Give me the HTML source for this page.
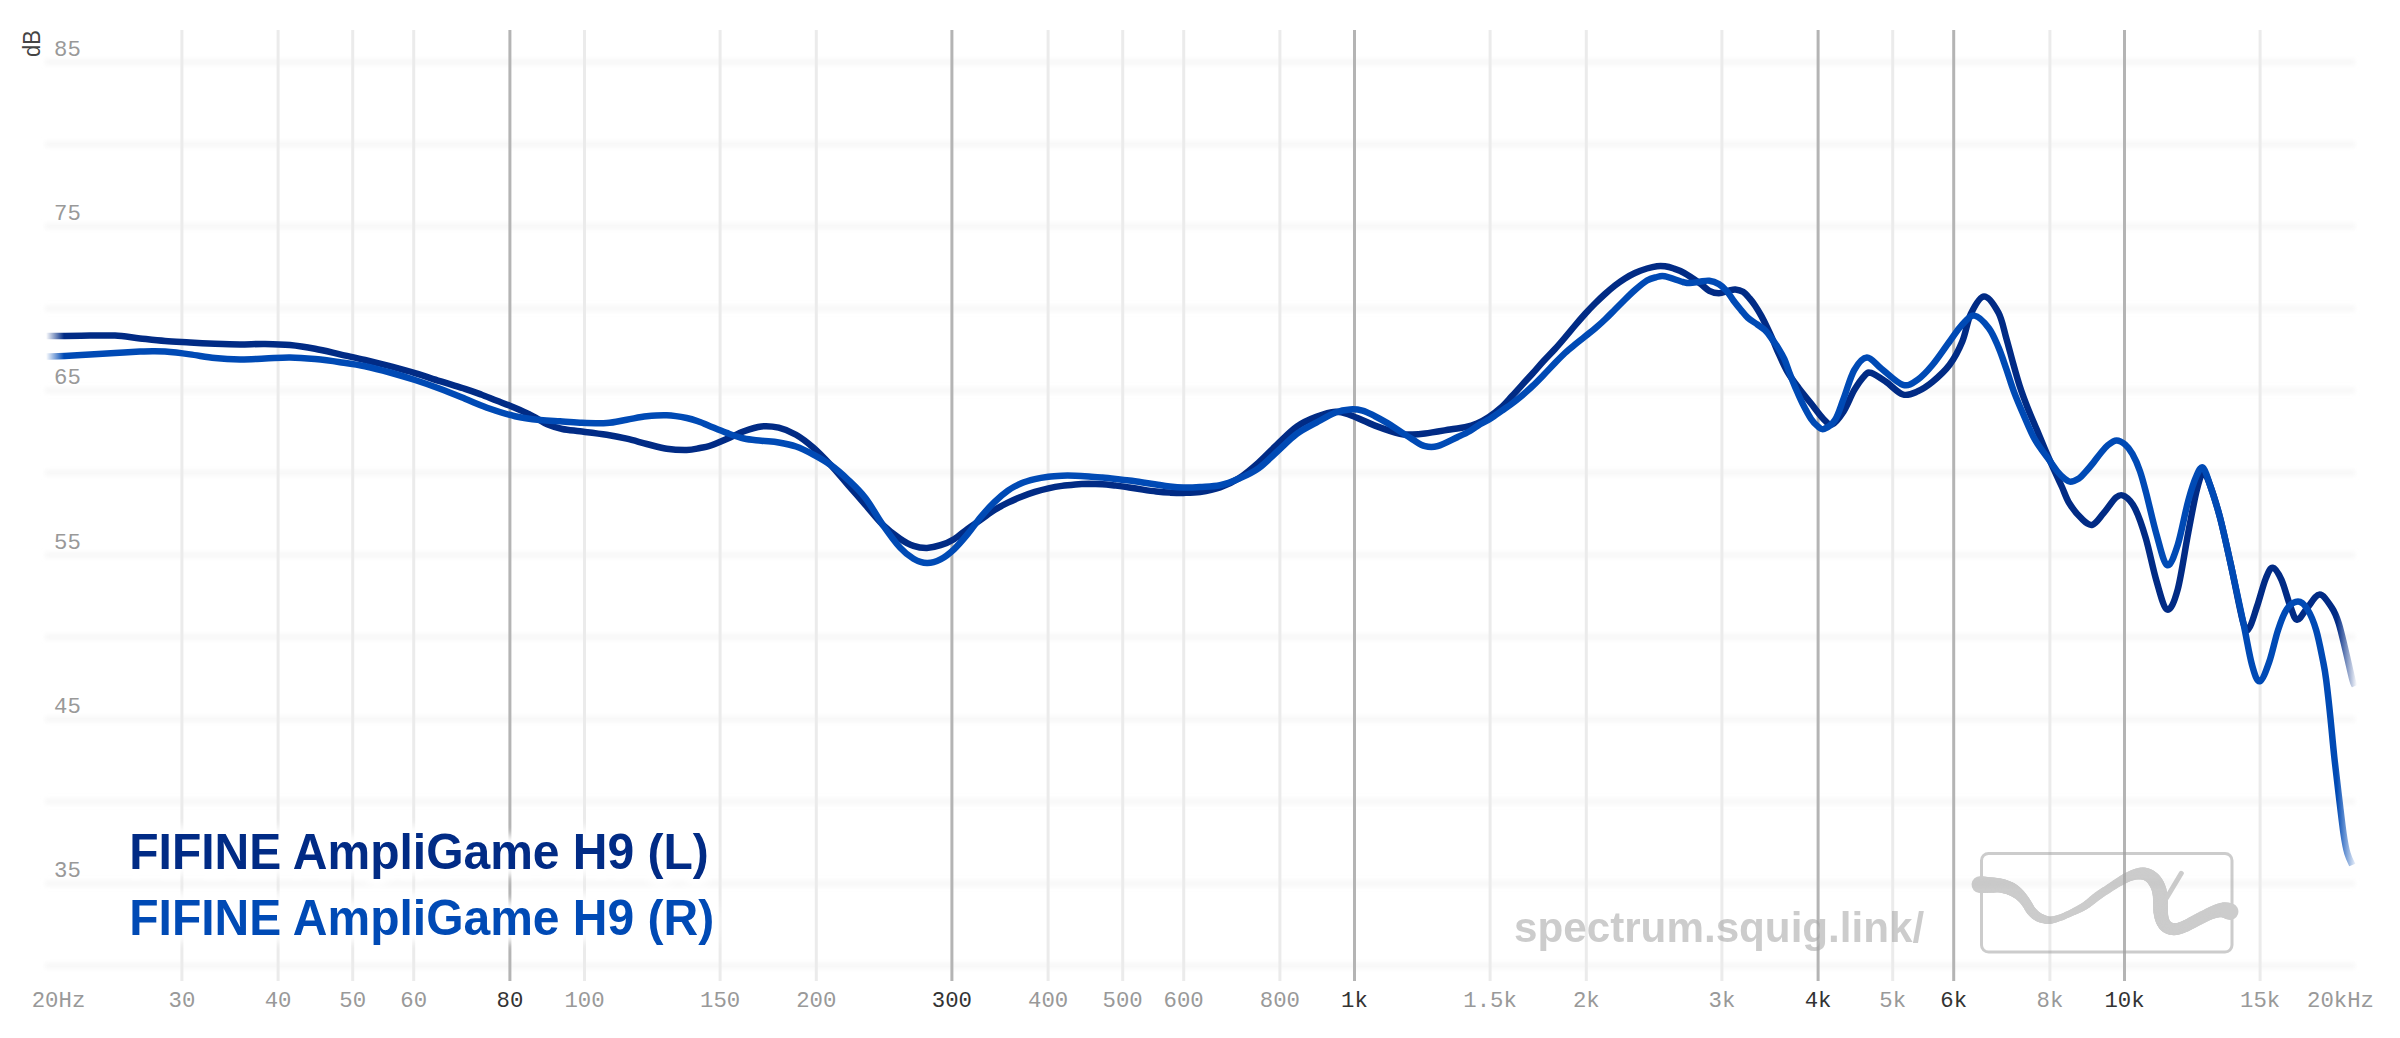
<!DOCTYPE html>
<html><head><meta charset="utf-8"><title>FIFINE AmpliGame H9 frequency response</title>
<style>
html,body{margin:0;padding:0;background:#fff;width:2400px;height:1038px;overflow:hidden}
svg{display:block}
.mono{font-family:"Liberation Mono",monospace}
.sans{font-family:"Liberation Sans",sans-serif}
</style></head><body>
<svg width="2400" height="1038" viewBox="0 0 2400 1038">
<defs>
<filter id="glow" x="-5%" y="-30%" width="110%" height="160%"><feGaussianBlur stdDeviation="4"/></filter>
<filter id="hb" x="-1%" y="-300%" width="102%" height="700%"><feGaussianBlur stdDeviation="2.2"/></filter>
<linearGradient id="fadeL" gradientUnits="userSpaceOnUse" x1="46" y1="0" x2="2357" y2="0">
<stop offset="0" stop-color="#012b85" stop-opacity="0"/><stop offset="0.0078" stop-color="#012b85" stop-opacity="1"/>
<stop offset="0.9913" stop-color="#012b85" stop-opacity="1"/><stop offset="1" stop-color="#012b85" stop-opacity="0"/></linearGradient>
<linearGradient id="fadeR" gradientUnits="userSpaceOnUse" x1="46" y1="0" x2="2357" y2="0">
<stop offset="0" stop-color="#004ab5" stop-opacity="0"/><stop offset="0.0078" stop-color="#004ab5" stop-opacity="1"/>
<stop offset="0.9913" stop-color="#004ab5" stop-opacity="1"/><stop offset="1" stop-color="#004ab5" stop-opacity="0"/></linearGradient>
</defs>
<rect width="2400" height="1038" fill="#fff"/>

<g filter="url(#hb)" stroke="#f7f7f7" stroke-width="6">
<line x1="45" y1="62.0" x2="2355" y2="62.0"/>
<line x1="45" y1="144.2" x2="2355" y2="144.2"/>
<line x1="45" y1="226.3" x2="2355" y2="226.3"/>
<line x1="45" y1="308.5" x2="2355" y2="308.5"/>
<line x1="45" y1="390.6" x2="2355" y2="390.6"/>
<line x1="45" y1="472.8" x2="2355" y2="472.8"/>
<line x1="45" y1="555.0" x2="2355" y2="555.0"/>
<line x1="45" y1="637.1" x2="2355" y2="637.1"/>
<line x1="45" y1="719.3" x2="2355" y2="719.3"/>
<line x1="45" y1="801.4" x2="2355" y2="801.4"/>
<line x1="45" y1="883.6" x2="2355" y2="883.6"/>
<line x1="45" y1="965.8" x2="2355" y2="965.8"/>
</g>
<g stroke-width="3">
<line x1="181.9" y1="30" x2="181.9" y2="981" stroke="#ebebeb"/>
<line x1="278.1" y1="30" x2="278.1" y2="981" stroke="#ebebeb"/>
<line x1="352.7" y1="30" x2="352.7" y2="981" stroke="#ebebeb"/>
<line x1="413.7" y1="30" x2="413.7" y2="981" stroke="#ebebeb"/>
<line x1="509.9" y1="30" x2="509.9" y2="981" stroke="#b4b4b4"/>
<line x1="584.5" y1="30" x2="584.5" y2="981" stroke="#ebebeb"/>
<line x1="720.1" y1="30" x2="720.1" y2="981" stroke="#ebebeb"/>
<line x1="816.3" y1="30" x2="816.3" y2="981" stroke="#ebebeb"/>
<line x1="951.9" y1="30" x2="951.9" y2="981" stroke="#b4b4b4"/>
<line x1="1048.1" y1="30" x2="1048.1" y2="981" stroke="#ebebeb"/>
<line x1="1122.7" y1="30" x2="1122.7" y2="981" stroke="#ebebeb"/>
<line x1="1183.7" y1="30" x2="1183.7" y2="981" stroke="#ebebeb"/>
<line x1="1279.9" y1="30" x2="1279.9" y2="981" stroke="#ebebeb"/>
<line x1="1354.5" y1="30" x2="1354.5" y2="981" stroke="#b4b4b4"/>
<line x1="1490.1" y1="30" x2="1490.1" y2="981" stroke="#ebebeb"/>
<line x1="1586.3" y1="30" x2="1586.3" y2="981" stroke="#ebebeb"/>
<line x1="1721.9" y1="30" x2="1721.9" y2="981" stroke="#ebebeb"/>
<line x1="1818.1" y1="30" x2="1818.1" y2="981" stroke="#b4b4b4"/>
<line x1="1892.7" y1="30" x2="1892.7" y2="981" stroke="#ebebeb"/>
<line x1="1953.7" y1="30" x2="1953.7" y2="981" stroke="#b4b4b4"/>
<line x1="2049.9" y1="30" x2="2049.9" y2="981" stroke="#ebebeb"/>
<line x1="2124.5" y1="30" x2="2124.5" y2="981" stroke="#b4b4b4"/>
<line x1="2260.1" y1="30" x2="2260.1" y2="981" stroke="#ebebeb"/>
</g>
<g opacity="0.547" fill="#a2a2a2">
<text class="sans" x="1514" y="942" font-size="42.2" font-weight="bold">spectrum.squig.link/</text>
<rect x="1981.5" y="853.5" width="250.5" height="98.5" rx="7" fill="none" stroke="#a2a2a2" stroke-width="3"/>
<g fill="none" stroke="#a2a2a2" stroke-linecap="round"><path d="M1980.0,884.6L1981.4,884.7" stroke-width="16.9"/><path d="M1981.4,884.7L1983.3,884.7" stroke-width="16.6"/><path d="M1983.3,884.7L1985.6,884.8" stroke-width="16.3"/><path d="M1985.6,884.8L1987.9,884.9" stroke-width="16.0"/><path d="M1987.9,884.9L1990.0,885.0" stroke-width="15.7"/><path d="M1990.0,885.0L1991.8,885.0" stroke-width="15.4"/><path d="M1991.8,885.0L1993.6,885.1" stroke-width="15.1"/><path d="M1993.6,885.1L1995.4,885.1" stroke-width="14.8"/><path d="M1995.4,885.1L1997.1,885.2" stroke-width="14.5"/><path d="M1997.1,885.2L1998.7,885.3" stroke-width="14.3"/><path d="M1998.7,885.3L2000.3,885.5" stroke-width="14.1"/><path d="M2000.3,885.5L2001.8,885.8" stroke-width="13.9"/><path d="M2001.8,885.8L2003.2,886.2" stroke-width="13.8"/><path d="M2003.2,886.2L2004.6,886.6" stroke-width="13.7"/><path d="M2004.6,886.6L2006.0,887.0" stroke-width="13.6"/><path d="M2006.0,887.0L2007.3,887.4" stroke-width="13.4"/><path d="M2007.3,887.4L2008.6,887.9" stroke-width="13.3"/><path d="M2008.6,887.9L2009.8,888.4" stroke-width="13.2"/><path d="M2009.8,888.4L2011.0,888.9" stroke-width="13.1"/><path d="M2011.0,888.9L2012.2,889.5" stroke-width="13.0"/><path d="M2012.2,889.5L2013.4,890.2" stroke-width="12.8"/><path d="M2013.4,890.2L2014.6,890.9" stroke-width="12.5"/><path d="M2014.6,890.9L2015.8,891.8" stroke-width="12.2"/><path d="M2015.8,891.8L2016.9,892.6" stroke-width="11.9"/><path d="M2016.9,892.6L2018.0,893.5" stroke-width="11.6"/><path d="M2018.0,893.5L2019.1,894.4" stroke-width="11.4"/><path d="M2019.1,894.4L2020.1,895.4" stroke-width="11.1"/><path d="M2020.1,895.4L2021.1,896.4" stroke-width="10.8"/><path d="M2021.1,896.4L2022.1,897.5" stroke-width="10.6"/><path d="M2022.1,897.5L2023.0,898.5" stroke-width="10.4"/><path d="M2023.0,898.5L2023.9,899.6" stroke-width="10.2"/><path d="M2023.9,899.6L2024.7,900.6" stroke-width="10.1"/><path d="M2024.7,900.6L2025.4,901.7" stroke-width="10.0"/><path d="M2025.4,901.7L2026.2,902.8" stroke-width="9.9"/><path d="M2026.2,902.8L2027.0,904.0" stroke-width="9.8"/><path d="M2027.0,904.0L2027.8,905.3" stroke-width="9.8"/><path d="M2027.8,905.3L2028.6,906.6" stroke-width="9.7"/><path d="M2028.6,906.6L2029.3,908.0" stroke-width="9.7"/><path d="M2029.3,908.0L2030.1,909.3" stroke-width="9.7"/><path d="M2030.1,909.3L2031.0,910.5" stroke-width="9.6"/><path d="M2031.0,910.5L2031.9,911.6" stroke-width="9.6"/><path d="M2031.9,911.6L2032.9,912.7" stroke-width="9.6"/><path d="M2032.9,912.7L2033.9,913.7" stroke-width="9.5"/><path d="M2033.9,913.7L2034.9,914.6" stroke-width="9.5"/><path d="M2034.9,914.6L2036.0,915.5" stroke-width="9.4"/><path d="M2036.0,915.5L2037.1,916.3" stroke-width="9.3"/><path d="M2037.1,916.3L2038.2,916.9" stroke-width="9.2"/><path d="M2038.2,916.9L2039.4,917.6" stroke-width="9.1"/><path d="M2039.4,917.6L2040.7,918.1" stroke-width="8.9"/><path d="M2040.7,918.1L2042.0,918.6" stroke-width="8.7"/><path d="M2042.0,918.6L2043.4,919.1" stroke-width="8.5"/><path d="M2043.4,919.1L2045.0,919.5" stroke-width="8.2"/><path d="M2045.0,919.5L2046.6,919.9" stroke-width="7.9"/><path d="M2046.6,919.9L2048.2,920.2" stroke-width="7.6"/><path d="M2048.2,920.2L2050.0,920.2" stroke-width="7.3"/><path d="M2050.0,920.2L2051.8,920.0" stroke-width="7.1"/><path d="M2051.8,920.0L2053.8,919.6" stroke-width="6.9"/><path d="M2053.8,919.6L2055.8,919.1" stroke-width="6.7"/><path d="M2055.8,919.1L2057.8,918.4" stroke-width="6.6"/><path d="M2057.8,918.4L2060.0,917.7" stroke-width="6.5"/><path d="M2060.0,917.7L2062.3,916.9" stroke-width="6.5"/><path d="M2062.3,916.9L2064.6,915.9" stroke-width="6.5"/><path d="M2064.6,915.9L2067.0,914.8" stroke-width="6.5"/><path d="M2067.0,914.8L2069.5,913.7" stroke-width="6.6"/><path d="M2069.5,913.7L2072.0,912.5" stroke-width="6.7"/><path d="M2072.0,912.5L2074.5,911.3" stroke-width="6.9"/><path d="M2074.5,911.3L2077.2,910.0" stroke-width="7.1"/><path d="M2077.2,910.0L2079.8,908.7" stroke-width="7.3"/><path d="M2079.8,908.7L2082.4,907.3" stroke-width="7.6"/><path d="M2082.4,907.3L2085.0,905.7" stroke-width="7.8"/><path d="M2085.0,905.7L2087.5,904.0" stroke-width="8.0"/><path d="M2087.5,904.0L2089.9,902.1" stroke-width="8.1"/><path d="M2089.9,902.1L2092.3,900.1" stroke-width="8.3"/><path d="M2092.3,900.1L2094.7,898.2" stroke-width="8.4"/><path d="M2094.7,898.2L2097.2,896.3" stroke-width="8.5"/><path d="M2097.2,896.3L2099.7,894.5" stroke-width="8.5"/><path d="M2099.7,894.5L2102.2,892.8" stroke-width="8.5"/><path d="M2102.2,892.8L2104.8,891.1" stroke-width="8.4"/><path d="M2104.8,891.1L2107.4,889.5" stroke-width="8.4"/><path d="M2107.4,889.5L2109.9,887.8" stroke-width="8.4"/><path d="M2109.9,887.8L2112.5,886.1" stroke-width="8.4"/><path d="M2112.5,886.1L2115.1,884.4" stroke-width="8.6"/><path d="M2115.1,884.4L2117.7,882.7" stroke-width="8.7"/><path d="M2117.7,882.7L2120.2,881.2" stroke-width="8.9"/><path d="M2120.2,881.2L2122.6,879.8" stroke-width="9.1"/><path d="M2122.6,879.8L2124.8,878.6" stroke-width="9.3"/><path d="M2124.8,878.6L2127.0,877.5" stroke-width="9.5"/><path d="M2127.0,877.5L2129.1,876.5" stroke-width="9.6"/><path d="M2129.1,876.5L2131.0,875.7" stroke-width="9.8"/><path d="M2131.0,875.7L2133.0,875.0" stroke-width="10.1"/><path d="M2133.0,875.0L2134.9,874.4" stroke-width="10.4"/><path d="M2134.9,874.4L2136.8,874.0" stroke-width="10.7"/><path d="M2136.8,874.0L2138.6,873.7" stroke-width="11.1"/><path d="M2138.6,873.7L2140.4,873.5" stroke-width="11.5"/><path d="M2140.4,873.5L2142.0,873.5" stroke-width="11.8"/><path d="M2142.0,873.5L2143.6,873.6" stroke-width="12.1"/><path d="M2143.6,873.6L2145.0,873.9" stroke-width="12.4"/><path d="M2145.0,873.9L2146.4,874.3" stroke-width="12.5"/><path d="M2146.4,874.3L2147.7,874.9" stroke-width="12.7"/><path d="M2147.7,874.9L2149.0,875.5" stroke-width="12.9"/><path d="M2149.0,875.5L2150.2,876.3" stroke-width="13.1"/><path d="M2150.2,876.3L2151.4,877.2" stroke-width="13.3"/><path d="M2151.4,877.2L2152.5,878.2" stroke-width="13.5"/><path d="M2152.5,878.2L2153.5,879.3" stroke-width="13.7"/><path d="M2153.5,879.3L2154.5,880.5" stroke-width="13.9"/><path d="M2154.5,880.5L2155.4,881.8" stroke-width="14.1"/><path d="M2155.4,881.8L2156.3,883.2" stroke-width="14.2"/><path d="M2156.3,883.2L2157.1,884.8" stroke-width="14.3"/><path d="M2157.1,884.8L2157.9,886.4" stroke-width="14.4"/><path d="M2157.9,886.4L2158.5,888.0" stroke-width="14.5"/><path d="M2158.5,888.0L2159.0,889.7" stroke-width="14.5"/><path d="M2159.0,889.7L2159.5,891.4" stroke-width="14.6"/><path d="M2159.5,891.4L2159.8,893.3" stroke-width="14.7"/><path d="M2159.8,893.3L2160.1,895.1" stroke-width="14.7"/><path d="M2160.1,895.1L2160.3,897.0" stroke-width="14.8"/><path d="M2160.3,897.0L2160.4,899.0" stroke-width="14.8"/><path d="M2160.4,899.0L2160.5,901.0" stroke-width="14.8"/><path d="M2160.5,901.0L2160.5,903.1" stroke-width="14.9"/><path d="M2160.5,903.1L2160.5,905.1" stroke-width="14.9"/><path d="M2160.5,905.1L2160.5,907.0" stroke-width="14.8"/><path d="M2160.5,907.0L2160.6,908.7" stroke-width="14.8"/><path d="M2160.6,908.7L2160.6,910.2" stroke-width="14.7"/><path d="M2160.6,910.2L2160.7,911.7" stroke-width="14.5"/><path d="M2160.7,911.7L2160.8,913.1" stroke-width="14.4"/><path d="M2160.8,913.1L2161.0,914.5" stroke-width="14.3"/><path d="M2161.0,914.5L2161.2,915.9" stroke-width="14.1"/><path d="M2161.2,915.9L2161.5,917.2" stroke-width="14.0"/><path d="M2161.5,917.2L2161.8,918.6" stroke-width="13.8"/><path d="M2161.8,918.6L2162.2,919.8" stroke-width="13.6"/><path d="M2162.2,919.8L2162.6,921.0" stroke-width="13.5"/><path d="M2162.6,921.0L2163.1,922.1" stroke-width="13.3"/><path d="M2163.1,922.1L2163.7,923.2" stroke-width="13.2"/><path d="M2163.7,923.2L2164.3,924.2" stroke-width="13.1"/><path d="M2164.3,924.2L2165.0,925.2" stroke-width="13.0"/><path d="M2165.0,925.2L2165.8,926.0" stroke-width="12.9"/><path d="M2165.8,926.0L2166.6,926.7" stroke-width="12.7"/><path d="M2166.6,926.7L2167.5,927.3" stroke-width="12.6"/><path d="M2167.5,927.3L2168.4,927.8" stroke-width="12.5"/><path d="M2168.4,927.8L2169.4,928.3" stroke-width="12.4"/><path d="M2169.4,928.3L2170.5,928.6" stroke-width="12.3"/><path d="M2170.5,928.6L2171.6,928.9" stroke-width="12.2"/><path d="M2171.6,928.9L2172.9,929.1" stroke-width="12.1"/><path d="M2172.9,929.1L2174.1,929.2" stroke-width="12.0"/><path d="M2174.1,929.2L2175.5,929.2" stroke-width="11.9"/><path d="M2175.5,929.2L2177.0,929.0" stroke-width="11.8"/><path d="M2177.0,929.0L2178.6,928.6" stroke-width="11.8"/><path d="M2178.6,928.6L2180.4,928.1" stroke-width="11.8"/><path d="M2180.4,928.1L2182.2,927.4" stroke-width="11.8"/><path d="M2182.2,927.4L2184.1,926.6" stroke-width="11.8"/><path d="M2184.1,926.6L2186.0,925.8" stroke-width="11.8"/><path d="M2186.0,925.8L2187.9,924.9" stroke-width="11.8"/><path d="M2187.9,924.9L2189.8,923.9" stroke-width="11.8"/><path d="M2189.8,923.9L2191.8,922.8" stroke-width="11.9"/><path d="M2191.8,922.8L2194.0,921.6" stroke-width="11.9"/><path d="M2194.0,921.6L2196.4,920.3" stroke-width="12.0"/><path d="M2196.4,920.3L2199.2,918.9" stroke-width="12.0"/><path d="M2199.2,918.9L2202.4,917.2" stroke-width="12.1"/><path d="M2202.4,917.2L2205.7,915.6" stroke-width="12.1"/><path d="M2205.7,915.6L2208.9,914.0" stroke-width="12.2"/><path d="M2208.9,914.0L2211.8,912.8" stroke-width="12.4"/><path d="M2211.8,912.8L2214.3,911.9" stroke-width="12.6"/><path d="M2214.3,911.9L2216.6,911.1" stroke-width="13.0"/><path d="M2216.6,911.1L2218.7,910.6" stroke-width="13.4"/><path d="M2218.7,910.6L2220.7,910.2" stroke-width="13.8"/><path d="M2220.7,910.2L2222.6,910.0" stroke-width="14.3"/><path d="M2222.6,910.0L2224.4,910.0" stroke-width="14.8"/><path d="M2224.4,910.0L2226.2,910.4" stroke-width="15.3"/><path d="M2226.2,910.4L2227.7,910.8" stroke-width="15.9"/><path d="M2227.7,910.8L2229.0,911.2" stroke-width="16.4"/><path d="M2229.0,911.2L2230.0,911.5" stroke-width="16.8"/></g>
<path d="M2166.5,898 L2181.3,873.3" fill="none" stroke="#a2a2a2" stroke-width="5" stroke-linecap="round"/>
</g>
<g class="mono" font-size="22.3" fill="#999">
<text x="54" y="55.7">85</text>
<text x="54" y="220.0">75</text>
<text x="54" y="384.3">65</text>
<text x="54" y="548.7">55</text>
<text x="54" y="713.0">45</text>
<text x="54" y="877.3">35</text>
</g>
<text class="sans" transform="translate(39.5,57) rotate(-90) scale(1,1.12)" font-size="22" fill="#444">dB</text>
<g class="mono" font-size="22.3" text-anchor="middle">
<text x="181.9" y="1006.5" fill="#999">30</text>
<text x="278.1" y="1006.5" fill="#999">40</text>
<text x="352.7" y="1006.5" fill="#999">50</text>
<text x="413.7" y="1006.5" fill="#999">60</text>
<text x="509.9" y="1006.5" fill="#333">80</text>
<text x="584.5" y="1006.5" fill="#999">100</text>
<text x="720.1" y="1006.5" fill="#999">150</text>
<text x="816.3" y="1006.5" fill="#999">200</text>
<text x="951.9" y="1006.5" fill="#333">300</text>
<text x="1048.1" y="1006.5" fill="#999">400</text>
<text x="1122.7" y="1006.5" fill="#999">500</text>
<text x="1183.7" y="1006.5" fill="#999">600</text>
<text x="1279.9" y="1006.5" fill="#999">800</text>
<text x="1354.5" y="1006.5" fill="#333">1k</text>
<text x="1490.1" y="1006.5" fill="#999">1.5k</text>
<text x="1586.3" y="1006.5" fill="#999">2k</text>
<text x="1721.9" y="1006.5" fill="#999">3k</text>
<text x="1818.1" y="1006.5" fill="#333">4k</text>
<text x="1892.7" y="1006.5" fill="#999">5k</text>
<text x="1953.7" y="1006.5" fill="#333">6k</text>
<text x="2049.9" y="1006.5" fill="#999">8k</text>
<text x="2124.5" y="1006.5" fill="#333">10k</text>
<text x="2260.1" y="1006.5" fill="#999">15k</text>
<text x="58.5" y="1006.5" fill="#999">20Hz</text>
<text x="2340.5" y="1006.5" fill="#999">20kHz</text>
</g>
<path d="M46.2,335.9 C49.4,335.9 57.7,335.9 65.0,335.9 C72.3,335.8 81.7,335.7 90.0,335.6 C98.3,335.6 106.7,335.1 115.0,335.6 C123.3,336.1 131.7,337.5 140.0,338.4 C148.3,339.3 156.7,340.3 165.0,341.0 C173.3,341.7 181.7,342.0 190.0,342.5 C198.3,343.0 206.7,343.4 215.0,343.8 C223.3,344.1 231.7,344.4 240.0,344.4 C248.3,344.4 256.7,343.9 265.0,344.0 C273.3,344.1 281.7,344.2 290.0,345.0 C298.3,345.8 306.7,347.2 315.0,348.8 C323.3,350.3 331.7,352.5 340.0,354.4 C348.3,356.3 356.7,358.0 365.0,360.0 C373.3,362.0 381.7,364.1 390.0,366.2 C398.3,368.4 406.7,370.6 415.0,373.1 C423.3,375.6 431.7,378.6 440.0,381.2 C448.3,383.9 458.1,386.6 465.0,388.8 C471.9,391.0 475.8,392.5 481.1,394.5 C486.4,396.5 492.3,399.0 497.0,400.8 C501.7,402.6 505.5,404.0 509.3,405.5 C513.1,407.0 516.8,408.6 520.0,410.0 C523.2,411.4 525.8,412.7 528.5,414.0 C531.2,415.3 532.8,416.0 536.0,417.8 C539.2,419.6 543.4,422.7 547.8,424.6 C552.2,426.5 556.9,427.9 562.3,429.0 C567.7,430.1 572.6,430.4 580.0,431.3 C587.4,432.2 598.9,433.5 606.7,434.7 C614.5,435.9 620.0,437.1 626.7,438.7 C633.4,440.2 640.0,442.3 646.7,444.0 C653.4,445.7 660.0,447.7 666.7,448.7 C673.4,449.7 681.2,450.1 686.7,450.0 C692.2,449.9 696.2,448.7 700.0,448.0 C703.8,447.3 704.9,447.5 709.4,446.0 C713.9,444.5 720.9,441.5 726.7,439.0 C732.5,436.5 738.2,433.3 744.0,431.2 C749.8,429.1 755.6,427.0 761.4,426.4 C767.2,425.8 772.9,426.3 778.7,427.7 C784.5,429.1 790.2,431.4 796.0,434.7 C801.8,438.0 807.6,442.6 813.4,447.7 C819.2,452.8 824.9,458.8 830.7,465.0 C836.5,471.2 842.3,478.4 848.1,485.0 C853.9,491.6 859.6,498.3 865.4,504.9 C871.2,511.5 877.0,519.2 882.8,524.8 C888.6,530.4 894.9,535.2 900.0,538.7 C905.1,542.2 909.0,544.4 913.5,545.9 C918.0,547.4 922.5,548.0 927.0,547.9 C931.5,547.8 936.0,546.7 940.5,545.2 C945.0,543.8 949.5,541.9 954.0,539.2 C958.5,536.5 962.9,532.3 967.4,529.0 C971.9,525.7 976.4,522.8 980.9,519.6 C985.4,516.5 989.9,512.9 994.4,510.1 C998.9,507.3 1003.4,504.9 1007.9,502.7 C1012.4,500.5 1016.9,498.5 1021.4,496.7 C1025.9,494.9 1030.4,493.3 1034.9,491.9 C1039.4,490.5 1043.9,489.3 1048.4,488.3 C1052.9,487.3 1057.4,486.5 1061.9,485.9 C1066.4,485.3 1070.9,484.9 1075.4,484.5 C1079.9,484.1 1084.4,483.9 1088.9,483.8 C1093.4,483.8 1097.8,483.9 1102.3,484.2 C1106.8,484.5 1111.3,485.1 1115.8,485.6 C1120.3,486.2 1124.8,486.8 1129.3,487.5 C1133.8,488.2 1138.3,488.9 1142.8,489.6 C1147.3,490.3 1151.8,491.0 1156.3,491.5 C1160.8,492.0 1165.3,492.4 1169.8,492.6 C1174.3,492.8 1178.3,493.0 1183.3,492.9 C1188.3,492.8 1193.9,492.9 1200.0,492.0 C1206.1,491.1 1213.5,489.8 1220.0,487.5 C1226.5,485.2 1232.9,482.1 1239.3,478.0 C1245.7,473.9 1252.1,468.3 1258.5,462.6 C1264.9,456.9 1271.4,449.8 1277.8,443.8 C1284.2,437.8 1290.7,431.0 1297.1,426.5 C1303.5,422.0 1309.9,419.3 1316.3,416.9 C1322.7,414.4 1330.0,412.1 1335.6,411.8 C1341.2,411.5 1343.4,412.7 1350.0,415.0 C1356.6,417.3 1366.7,422.5 1375.0,425.6 C1383.3,428.7 1393.8,432.3 1400.0,433.8 C1406.2,435.2 1408.3,434.4 1412.5,434.4 C1416.7,434.4 1418.8,434.3 1425.0,433.5 C1431.2,432.7 1443.3,430.6 1450.0,429.5 C1456.7,428.4 1460.5,428.2 1465.0,427.2 C1469.5,426.2 1473.0,425.2 1477.0,423.5 C1481.0,421.8 1485.0,419.7 1489.0,417.0 C1493.0,414.3 1497.4,410.9 1501.2,407.5 C1505.0,404.1 1508.3,400.1 1511.8,396.3 C1515.3,392.5 1518.9,388.5 1522.4,384.6 C1525.9,380.7 1529.5,376.9 1533.0,373.0 C1536.5,369.1 1539.9,365.0 1543.6,361.0 C1547.3,357.0 1551.4,352.9 1555.0,349.0 C1558.6,345.1 1561.7,341.4 1565.0,337.5 C1568.3,333.6 1571.7,329.4 1575.0,325.5 C1578.3,321.6 1581.7,317.7 1585.0,314.0 C1588.3,310.3 1591.7,306.8 1595.0,303.5 C1598.3,300.2 1601.7,297.0 1605.0,294.0 C1608.3,291.0 1611.7,288.1 1615.0,285.5 C1618.3,282.9 1621.7,280.6 1625.0,278.5 C1628.3,276.4 1631.3,274.7 1635.0,273.0 C1638.7,271.3 1643.3,269.6 1647.0,268.5 C1650.7,267.4 1654.0,266.6 1657.0,266.2 C1660.0,265.8 1662.3,265.9 1665.0,266.3 C1667.7,266.7 1669.8,267.2 1673.0,268.3 C1676.2,269.4 1679.6,270.3 1684.0,272.8 C1688.4,275.3 1695.4,280.1 1699.6,283.1 C1703.8,286.1 1706.1,289.1 1709.3,290.8 C1712.5,292.5 1715.7,293.2 1718.9,293.2 C1722.1,293.2 1725.8,291.4 1728.5,290.8 C1731.2,290.2 1732.9,289.2 1735.3,289.4 C1737.7,289.6 1740.6,290.3 1743.0,291.8 C1745.4,293.3 1747.6,296.1 1749.7,298.5 C1751.8,300.9 1753.6,303.3 1755.5,306.2 C1757.4,309.1 1759.4,312.4 1761.3,315.9 C1763.2,319.4 1765.2,323.4 1767.1,327.4 C1769.0,331.4 1770.9,335.4 1772.9,340.0 C1774.9,344.6 1776.8,349.6 1779.3,355.0 C1781.8,360.4 1784.6,366.9 1787.8,372.4 C1791.0,377.9 1794.8,382.8 1798.6,387.9 C1802.4,393.0 1806.8,398.2 1810.9,403.3 C1815.0,408.4 1819.7,415.2 1823.2,418.7 C1826.7,422.2 1828.6,425.7 1832.0,424.5 C1835.4,423.3 1839.9,417.1 1843.6,411.4 C1847.3,405.7 1850.7,396.2 1854.2,390.2 C1857.7,384.2 1862.0,378.3 1864.8,375.4 C1867.6,372.5 1867.7,371.8 1871.2,372.9 C1874.7,374.0 1880.7,378.2 1886.0,381.8 C1891.3,385.4 1897.7,392.9 1903.0,394.5 C1908.3,396.1 1912.9,393.4 1917.8,391.3 C1922.7,389.2 1927.3,386.2 1932.6,381.8 C1937.9,377.4 1944.6,371.5 1949.6,364.8 C1954.5,358.1 1958.8,350.0 1962.3,341.5 C1965.8,333.0 1967.2,321.4 1970.8,313.9 C1974.4,306.4 1979.5,296.6 1984.1,296.4 C1988.7,296.2 1994.8,305.9 1998.5,312.8 C2002.2,319.7 2003.8,329.5 2006.2,337.8 C2008.6,346.1 2010.8,354.9 2013.0,362.9 C2015.2,370.9 2017.3,378.6 2019.7,386.0 C2022.1,393.4 2024.5,399.8 2027.4,407.2 C2030.3,414.6 2033.9,422.6 2037.1,430.3 C2040.3,438.0 2043.5,446.0 2046.7,453.4 C2049.9,460.8 2053.8,469.0 2056.3,474.6 C2058.9,480.2 2059.8,482.2 2062.0,487.0 C2064.2,491.8 2066.0,498.0 2069.3,503.3 C2072.6,508.6 2077.8,515.1 2081.7,518.7 C2085.5,522.3 2088.8,525.7 2092.4,524.8 C2096.1,523.9 2099.6,517.8 2103.6,513.2 C2107.6,508.6 2112.8,500.1 2116.3,497.3 C2119.8,494.5 2121.5,494.4 2124.7,496.3 C2127.9,498.2 2131.8,501.9 2135.3,509.0 C2138.8,516.0 2142.4,526.6 2145.9,538.6 C2149.4,550.6 2153.0,569.2 2156.5,581.0 C2160.0,592.8 2163.6,608.2 2167.1,609.6 C2170.6,611.0 2174.2,602.4 2177.7,589.5 C2181.2,576.6 2185.1,548.9 2188.3,532.3 C2191.5,515.7 2194.3,499.8 2196.8,489.9 C2199.3,480.0 2201.0,474.1 2203.1,473.0 C2205.2,471.9 2206.7,476.2 2209.5,483.6 C2212.3,491.0 2216.5,504.1 2220.0,517.5 C2223.5,530.9 2226.8,546.4 2230.7,564.0 C2234.6,581.6 2240.3,612.6 2243.4,623.2 C2246.5,633.8 2247.1,630.5 2249.4,627.6 C2251.7,624.7 2254.4,614.1 2257.2,605.9 C2259.9,597.6 2263.3,584.5 2265.9,578.1 C2268.5,571.7 2270.2,567.4 2272.8,567.7 C2275.4,568.0 2278.6,573.5 2281.5,579.9 C2284.4,586.3 2287.6,599.2 2290.2,605.9 C2292.8,612.5 2294.2,619.5 2297.1,619.8 C2300.0,620.1 2303.8,611.8 2307.5,607.6 C2311.2,603.4 2315.5,594.6 2319.6,594.6 C2323.7,594.6 2328.6,602.8 2331.8,607.6 C2335.0,612.4 2336.4,616.0 2338.7,623.2 C2341.0,630.4 2343.4,641.5 2345.7,651.0 C2348.0,660.5 2351.0,674.7 2352.6,680.5 C2354.2,686.3 2354.6,685.1 2355.0,686.0" fill="none" stroke="url(#fadeL)" stroke-width="6.5" stroke-linejoin="round"/>
<path d="M46.2,356.5 C49.4,356.4 57.7,356.2 65.0,355.9 C72.3,355.5 81.7,354.9 90.0,354.4 C98.3,353.9 106.7,353.4 115.0,352.9 C123.3,352.4 133.8,351.9 140.0,351.6 C146.2,351.3 148.3,351.2 152.5,351.2 C156.7,351.2 158.8,351.1 165.0,351.6 C171.2,352.1 181.7,353.3 190.0,354.4 C198.3,355.5 206.7,357.3 215.0,358.1 C223.3,358.9 231.7,359.3 240.0,359.4 C248.3,359.5 256.7,358.8 265.0,358.5 C273.3,358.2 281.7,357.4 290.0,357.5 C298.3,357.6 306.7,358.3 315.0,359.1 C323.3,359.9 331.7,361.0 340.0,362.2 C348.3,363.4 356.7,364.5 365.0,366.2 C373.3,368.0 381.7,370.2 390.0,372.5 C398.3,374.8 406.7,377.3 415.0,380.0 C423.3,382.7 431.7,385.6 440.0,388.8 C448.3,391.9 456.7,395.4 465.0,398.8 C473.3,402.1 481.7,405.8 490.0,408.8 C498.3,411.7 506.7,414.4 515.0,416.2 C523.3,418.1 532.5,419.2 540.0,420.0 C547.5,420.8 553.3,420.9 560.0,421.3 C566.7,421.8 572.2,422.4 580.0,422.7 C587.8,423.0 598.9,423.5 606.7,423.0 C614.5,422.5 620.0,420.8 626.7,419.7 C633.4,418.6 640.0,417.0 646.7,416.3 C653.4,415.6 660.0,415.0 666.7,415.3 C673.4,415.6 681.2,416.9 686.7,418.0 C692.2,419.1 696.2,420.7 700.0,422.0 C703.8,423.3 704.9,424.2 709.4,426.0 C713.9,427.8 720.9,430.8 726.7,432.9 C732.5,435.0 738.2,437.2 744.0,438.5 C749.8,439.8 755.6,440.0 761.4,440.7 C767.2,441.4 772.9,441.5 778.7,442.5 C784.5,443.5 790.2,444.5 796.0,446.5 C801.8,448.5 807.6,451.5 813.4,454.6 C819.2,457.7 824.9,460.8 830.7,465.0 C836.5,469.2 842.3,474.3 848.1,479.8 C853.9,485.3 859.6,490.5 865.4,498.0 C871.2,505.5 877.0,516.5 882.8,524.8 C888.6,533.1 895.0,542.0 900.1,547.6 C905.2,553.2 909.0,556.1 913.5,558.7 C918.0,561.3 922.5,562.9 927.0,563.0 C931.5,563.1 936.0,561.7 940.5,559.4 C945.0,557.1 949.5,553.5 954.0,549.3 C958.5,545.1 962.9,539.8 967.4,534.4 C971.9,529.0 976.4,522.3 980.9,516.9 C985.4,511.5 989.9,506.5 994.4,502.1 C998.9,497.7 1003.4,493.8 1007.9,490.6 C1012.4,487.5 1016.9,485.1 1021.4,483.2 C1025.9,481.3 1030.4,480.2 1034.9,479.1 C1039.4,478.0 1043.9,477.3 1048.4,476.7 C1052.9,476.1 1057.4,475.9 1061.9,475.7 C1066.4,475.5 1070.9,475.6 1075.4,475.7 C1079.9,475.8 1084.4,476.1 1088.9,476.4 C1093.4,476.7 1097.8,477.1 1102.3,477.5 C1106.8,477.9 1111.3,478.4 1115.8,478.9 C1120.3,479.4 1124.8,479.9 1129.3,480.5 C1133.8,481.1 1138.3,481.8 1142.8,482.5 C1147.3,483.2 1151.8,483.8 1156.3,484.5 C1160.8,485.2 1165.3,486.0 1169.8,486.5 C1174.3,487.0 1178.3,487.4 1183.3,487.5 C1188.3,487.6 1193.9,487.4 1200.0,487.0 C1206.1,486.6 1213.5,486.7 1220.0,485.3 C1226.5,483.9 1232.9,481.3 1239.3,478.5 C1245.7,475.7 1252.1,473.0 1258.5,468.4 C1264.9,463.8 1271.4,456.8 1277.8,451.0 C1284.2,445.2 1290.7,438.4 1297.1,433.7 C1303.5,429.0 1309.9,426.1 1316.3,422.6 C1322.7,419.1 1330.0,414.7 1335.6,412.5 C1341.2,410.3 1345.5,409.7 1350.0,409.4 C1354.5,409.1 1358.3,409.5 1362.5,410.6 C1366.7,411.7 1370.8,414.2 1375.0,416.2 C1379.2,418.3 1383.3,420.6 1387.5,423.1 C1391.7,425.6 1395.8,428.5 1400.0,431.2 C1404.2,434.0 1408.3,436.9 1412.5,439.4 C1416.7,441.9 1420.8,445.1 1425.0,446.2 C1429.2,447.4 1432.0,447.8 1437.5,446.2 C1443.0,444.7 1452.4,439.5 1457.8,437.0 C1463.2,434.5 1466.3,433.1 1470.0,431.0 C1473.7,428.9 1476.6,426.4 1480.0,424.3 C1483.4,422.2 1487.1,420.7 1490.6,418.5 C1494.1,416.3 1497.7,413.6 1501.2,411.1 C1504.7,408.6 1508.3,406.4 1511.8,403.7 C1515.3,401.0 1518.9,398.2 1522.4,395.2 C1525.9,392.2 1529.5,389.1 1533.0,385.7 C1536.5,382.3 1539.9,378.8 1543.6,375.0 C1547.3,371.2 1551.4,366.7 1555.0,363.0 C1558.6,359.3 1561.7,356.1 1565.0,353.0 C1568.3,349.9 1571.7,347.2 1575.0,344.5 C1578.3,341.8 1581.7,339.2 1585.0,336.5 C1588.3,333.8 1591.7,331.3 1595.0,328.5 C1598.3,325.7 1601.7,322.7 1605.0,319.5 C1608.3,316.3 1611.7,312.8 1615.0,309.5 C1618.3,306.2 1621.7,302.8 1625.0,299.5 C1628.3,296.2 1631.3,293.2 1635.0,290.0 C1638.7,286.8 1643.5,282.6 1647.0,280.5 C1650.5,278.4 1653.0,278.0 1656.0,277.3 C1659.0,276.6 1660.2,275.5 1664.7,276.3 C1669.2,277.1 1678.8,280.9 1683.0,282.0 C1687.2,283.1 1687.2,283.2 1690.0,283.1 C1692.8,283.1 1696.4,282.1 1699.6,281.7 C1702.8,281.3 1706.1,280.3 1709.3,280.7 C1712.5,281.1 1716.0,282.4 1718.9,284.1 C1721.8,285.8 1724.2,288.1 1726.6,290.8 C1729.0,293.5 1731.0,297.3 1733.4,300.5 C1735.8,303.7 1738.7,307.2 1741.1,310.1 C1743.5,313.0 1745.1,315.4 1747.8,317.8 C1750.5,320.2 1754.5,322.4 1757.4,324.5 C1760.3,326.6 1762.7,327.9 1765.1,330.3 C1767.5,332.7 1769.7,335.9 1771.9,339.0 C1774.2,342.1 1776.5,345.2 1778.6,348.6 C1780.7,352.0 1782.6,355.2 1784.4,359.2 C1786.2,363.2 1787.5,367.6 1789.3,372.4 C1791.1,377.2 1793.3,382.8 1795.5,387.9 C1797.7,393.0 1799.8,398.2 1802.4,403.3 C1805.0,408.4 1808.3,414.8 1810.9,418.7 C1813.5,422.6 1815.8,424.8 1818.0,426.5 C1820.2,428.2 1821.2,430.1 1824.0,429.0 C1826.8,427.9 1831.8,424.9 1835.1,419.9 C1838.4,414.8 1840.4,407.0 1843.6,398.7 C1846.8,390.4 1850.3,377.0 1854.2,370.1 C1858.1,363.2 1862.3,357.6 1866.9,357.4 C1871.5,357.2 1875.8,364.4 1881.8,369.0 C1887.8,373.6 1897.0,383.1 1903.0,384.9 C1909.0,386.7 1912.9,383.0 1917.8,379.6 C1922.7,376.2 1927.3,371.2 1932.6,364.8 C1937.9,358.4 1944.6,348.2 1949.6,341.5 C1954.5,334.8 1958.1,328.8 1962.3,324.5 C1966.5,320.2 1970.1,315.0 1974.5,315.6 C1978.9,316.2 1984.9,322.9 1988.9,328.2 C1992.9,333.5 1995.6,340.7 1998.5,347.4 C2001.4,354.1 2003.6,361.2 2006.2,368.6 C2008.8,376.0 2011.1,384.1 2014.0,391.8 C2016.9,399.5 2020.1,406.9 2023.6,414.9 C2027.1,422.9 2030.7,432.2 2035.1,439.9 C2039.5,447.6 2046.3,455.9 2050.0,461.1 C2053.7,466.3 2054.8,468.3 2057.2,471.2 C2059.6,474.1 2062.3,476.8 2064.5,478.5 C2066.7,480.2 2067.8,481.7 2070.2,481.7 C2072.6,481.7 2076.2,480.2 2078.9,478.5 C2081.6,476.8 2083.7,473.8 2086.1,471.2 C2088.5,468.6 2091.0,465.6 2093.4,462.6 C2095.8,459.6 2098.2,456.1 2100.6,453.2 C2103.0,450.3 2105.2,447.3 2107.8,445.2 C2110.5,443.1 2113.6,440.6 2116.5,440.5 C2119.4,440.4 2122.4,442.3 2125.1,444.5 C2127.8,446.7 2129.9,449.4 2132.4,453.9 C2134.9,458.3 2137.8,464.8 2140.0,471.2 C2142.2,477.6 2143.2,481.5 2145.9,492.0 C2148.7,502.5 2153.0,522.2 2156.5,534.4 C2160.0,546.6 2163.6,563.3 2167.1,565.1 C2170.6,566.9 2174.2,555.8 2177.7,545.0 C2181.2,534.2 2185.1,512.1 2188.3,500.5 C2191.5,488.9 2194.3,480.6 2196.8,475.1 C2199.3,469.6 2201.0,466.3 2203.1,467.7 C2205.2,469.1 2206.7,475.3 2209.5,483.6 C2212.3,491.9 2216.5,504.1 2220.0,517.5 C2223.5,530.9 2226.8,546.4 2230.7,564.0 C2234.6,581.6 2239.8,606.4 2243.4,623.2 C2247.0,640.0 2249.3,655.1 2252.0,664.8 C2254.7,674.5 2256.9,681.9 2259.8,681.3 C2262.7,680.7 2266.4,669.9 2269.4,661.4 C2272.4,652.9 2275.1,638.9 2278.0,630.2 C2280.9,621.5 2283.4,614.2 2286.7,609.4 C2290.0,604.6 2294.5,601.6 2298.0,601.6 C2301.5,601.6 2304.5,604.6 2307.5,609.4 C2310.5,614.2 2313.6,621.5 2316.2,630.2 C2318.8,638.9 2321.4,653.1 2323.1,661.4 C2324.8,669.7 2325.0,670.5 2326.2,680.0 C2327.4,689.5 2329.2,705.7 2330.5,718.5 C2331.8,731.3 2332.9,744.1 2334.3,757.0 C2335.7,769.9 2337.2,782.8 2338.8,795.6 C2340.4,808.5 2342.2,824.5 2343.6,834.1 C2345.0,843.7 2345.9,848.2 2347.4,853.4 C2348.9,858.5 2351.5,863.1 2352.3,865.0" fill="none" stroke="url(#fadeR)" stroke-width="6.5" stroke-linejoin="round"/>
<g class="sans" font-size="48" font-weight="bold" fill="#fff" stroke="#fff" stroke-width="14" stroke-linejoin="round" filter="url(#glow)">
<text transform="translate(129.3,868.8) scale(1,1.03)">FIFINE AmpliGame H9 (L)</text>
<text transform="translate(129.3,934.6) scale(1,1.03)">FIFINE AmpliGame H9 (R)</text>
</g>
<g class="sans" font-size="48" font-weight="bold">
<text transform="translate(129.3,868.8) scale(1,1.03)" fill="#012b85">FIFINE AmpliGame H9 (L)</text>
<text transform="translate(129.3,934.6) scale(1,1.03)" fill="#004ab5">FIFINE AmpliGame H9 (R)</text>
</g>
</svg></body></html>
